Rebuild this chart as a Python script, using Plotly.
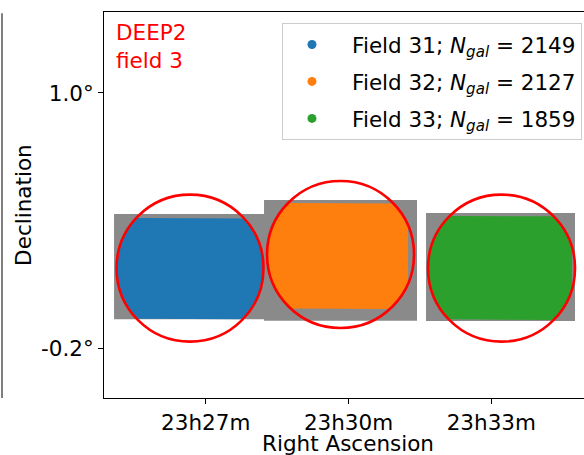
import numpy as np
import plotly.graph_objects as go

# DEEP2 field 3 pointings: RA in minutes past 23h, Dec in degrees
fields = ["Field 31", "Field 32", "Field 33"]
n_gal = [2149, 2127, 1859]
colors = ["#1f77b4", "#ff7f0e", "#2ca02c"]

# footprint of the full catalogue (gray): [ra_min, ra_max], [dec_min, dec_max]
all_ra = [[25.074, 28.288], [28.225, 31.439], [31.628, 34.758]]
all_dec = [[-0.064, 0.431], [-0.072, 0.496], [-0.073, 0.435]]

# footprint of the selected galaxies (coloured, also cut by the circle)
sel_ra = [[25.116, 28.267], [28.309, 31.250], [31.670, 34.695]]
sel_dec = [[-0.064, 0.412], [-0.016, 0.482], [-0.068, 0.421]]

# circular apertures
circ_ra = [26.670, 29.832, 33.214]
circ_dec = [0.176, 0.240, 0.176]
radius_ra = 1.544   # RA minutes
radius_dec = 0.346  # degrees

tick_ra = [27, 30, 33]
tick_ra_text = ["23h27m", "23h30m", "23h33m"]
tick_dec = [1.0, -0.2]
tick_dec_text = ["1.0°", "-0.2°"]

FONT = "DejaVu Sans"
FS = 21.5
fig = go.Figure()

# gray footprints of all galaxies
for (x0, x1), (y0, y1) in zip(all_ra, all_dec):
    fig.add_trace(go.Scatter(
        x=[x0, x1, x1, x0, x0], y=[y0, y0, y1, y1, y0],
        mode="lines", fill="toself", fillcolor="#8a8a8a",
        line=dict(width=0, color="#8a8a8a"), showlegend=False, hoverinfo="skip"))

# coloured regions: selected footprint inside each aperture
for i in range(3):
    cx, cy = circ_ra[i], circ_dec[i]
    xa = max(sel_ra[i][0], cx - radius_ra)
    xb = min(sel_ra[i][1], cx + radius_ra)
    xs = np.linspace(xa, xb, 300)
    h = radius_dec * np.sqrt(np.clip(1 - ((xs - cx) / radius_ra) ** 2, 0, None))
    top = np.minimum(sel_dec[i][1], cy + h)
    bot = np.maximum(sel_dec[i][0], cy - h)
    px = np.concatenate([xs, xs[::-1], xs[:1]])
    py = np.concatenate([top, bot[::-1], top[:1]])
    fig.add_trace(go.Scatter(
        x=px, y=py, mode="lines", fill="toself", fillcolor=colors[i],
        line=dict(width=0, color=colors[i]), showlegend=False, hoverinfo="skip"))

# legend entries
for i in range(3):
    fig.add_trace(go.Scatter(
        x=[None], y=[None], mode="markers",
        marker=dict(color=colors[i], size=9),
        name=f"\u00a0\u2009{fields[i]}; <i>N</i><sub><i>gal</i></sub> = {n_gal[i]}",
        legendgroup=str(i)))

# aperture circles
for i in range(3):
    fig.add_shape(type="circle", xref="x", yref="y",
                  x0=circ_ra[i] - radius_ra, x1=circ_ra[i] + radius_ra,
                  y0=circ_dec[i] - radius_dec, y1=circ_dec[i] + radius_dec,
                  line=dict(color="#ff0000", width=2.6))

# edge of the neighbouring panel
fig.add_shape(type="line", xref="paper", yref="paper",
              x0=-0.2125, x1=-0.2125, y0=0, y1=0.997,
              line=dict(color="#555555", width=1.5))

fig.add_annotation(text="DEEP2<br>field 3", xref="paper", yref="paper",
                   x=0.021, y=0.985, xanchor="left", yanchor="top",
                   showarrow=False, align="left",
                   font=dict(family=FONT, size=FS, color="#ff0000"))
fig.add_annotation(text="Declination", xref="paper", yref="paper",
                   x=-0.169, y=0.5, xanchor="center", yanchor="middle",
                   textangle=-90, showarrow=False,
                   font=dict(family=FONT, size=FS, color="black"))
fig.add_annotation(text="Right Ascension", xref="paper", yref="paper",
                   x=0.508, y=-0.118, xanchor="center", yanchor="middle",
                   showarrow=False,
                   font=dict(family=FONT, size=FS, color="black"))

fig.update_layout(
    width=584, height=455,
    margin=dict(l=104, r=0, t=12, b=57),
    plot_bgcolor="white", paper_bgcolor="white",
    font=dict(family=FONT, size=FS, color="black"),
    legend=dict(x=0.9958, y=0.9715, xanchor="right", yanchor="top",
                bgcolor="white", bordercolor="#cccccc", borderwidth=1,
                tracegroupgap=6, itemwidth=48,
                font=dict(family=FONT, size=FS, color="black")),
    xaxis=dict(range=[24.863, 34.947], tickvals=tick_ra, ticktext=tick_ra_text,
               showgrid=False, zeroline=False, showline=True, mirror=True,
               linecolor="black", linewidth=1, ticks="outside", ticklen=5,
               tickcolor="black"),
    yaxis=dict(range=[-0.435, 1.381], tickvals=tick_dec, ticktext=tick_dec_text,
               showgrid=False, zeroline=False, showline=True, mirror=False,
               linecolor="black", linewidth=1, ticks="outside", ticklen=5,
               tickcolor="black"),
)

fig.write_html("out.html")
